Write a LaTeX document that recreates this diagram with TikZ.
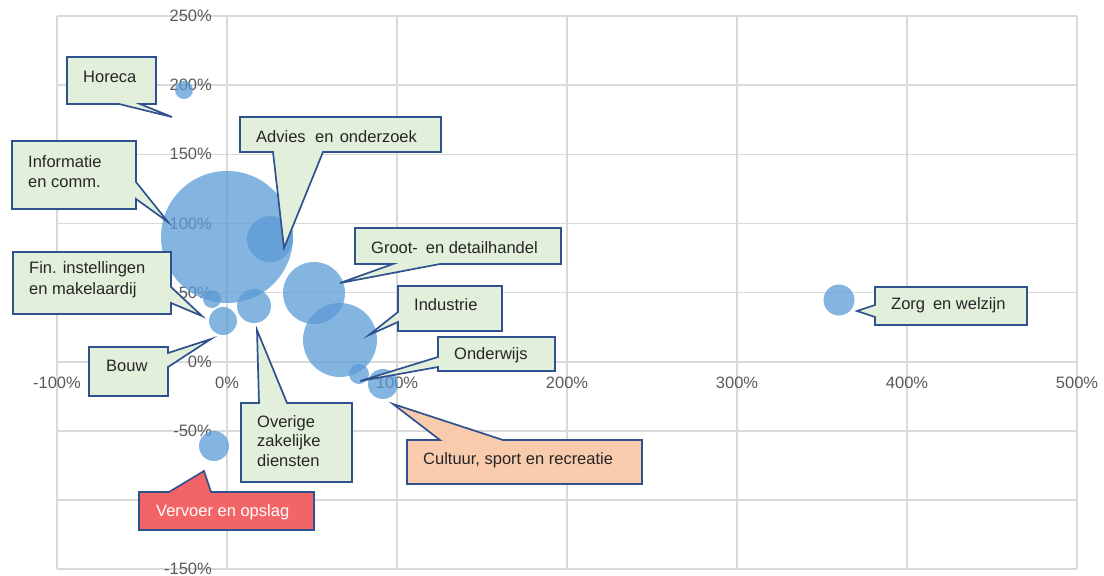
\documentclass[tikz,border=0pt]{standalone}
\usepackage{fontspec}
\setmainfont{Liberation Sans}
\definecolor{gridgray}{HTML}{D9D9D9}
\definecolor{labelgray}{HTML}{595959}
\definecolor{bubbleblue}{HTML}{5B9BD5}
\definecolor{calloutgreen}{HTML}{E2EFDA}
\definecolor{calloutpeach}{HTML}{F8CBAD}
\definecolor{calloutred}{HTML}{F26466}
\definecolor{calloutline}{HTML}{2F528F}
\definecolor{textdark}{HTML}{262626}
\begin{document}
\begin{tikzpicture}[x=1pt,y=-1pt,
  gridline/.style={draw=gridgray,line width=1.6pt},
  ticklabel/.style={text=labelgray,inner sep=0pt,font=\fontsize{16.5}{20}\selectfont},
  bubble/.style={fill=bubbleblue,fill opacity=0.75},
  callgreen/.style={fill=calloutgreen,draw=calloutline,line width=1.7pt,line join=miter},
  callpeach/.style={fill=calloutpeach,draw=calloutline,line width=1.7pt,line join=miter},
  callred/.style={fill=calloutred,draw=calloutline,line width=1.7pt,line join=miter},
  calltext/.style={text=textdark,inner sep=0pt,anchor=west,align=left,font=\fontsize{16.5}{20.5}\selectfont}]
\useasboundingbox (0,0) rectangle (1104,576);

% grid
\foreach \gx in {57,227,397,567,737,907,1077}
  \draw[gridline] (\gx,16) -- (\gx,569.2);
\foreach \k in {0,...,8}
  \draw[gridline] (57,16+69.15*\k) -- (1077,16+69.15*\k);

% vertical axis labels
\node[ticklabel,anchor=east] (y250) at (212,16) {250\%};
\node[ticklabel,anchor=east] (y200) at (212,85.15) {200\%};
\node[ticklabel,anchor=east] (y150) at (212,154.3) {150\%};
\node[ticklabel,anchor=east] (y100) at (212,223.45) {100\%};
\node[ticklabel,anchor=east] (y50) at (212,292.6) {50\%};
\node[ticklabel,anchor=east] (y0) at (212,361.75) {0\%};
\node[ticklabel,anchor=east] (ym50) at (212,430.9) {-50\%};
\node[ticklabel,anchor=east] (ym150) at (212,569.2) {-150\%};

% horizontal axis labels
\node[ticklabel] (xm100) at (57,383) {-100\%};
\node[ticklabel] (x0) at (227,383) {0\%};
\node[ticklabel] (x100) at (397,383) {100\%};
\node[ticklabel] (x200) at (567,383) {200\%};
\node[ticklabel] (x300) at (737,383) {300\%};
\node[ticklabel] (x400) at (907,383) {400\%};
\node[ticklabel] (x500) at (1077,383) {500\%};

% bubbles
\fill[bubble] (227,237) circle (66);
\fill[bubble] (270,239) circle (23);
\fill[bubble] (184,90) circle (9);
\fill[bubble] (314,293) circle (31);
\fill[bubble] (340,340) circle (37);
\fill[bubble] (359,374) circle (10);
\fill[bubble] (383,384) circle (15);
\fill[bubble] (254,306) circle (17);
\fill[bubble] (212,299) circle (9);
\fill[bubble] (223,321) circle (14);
\fill[bubble] (214,446) circle (15);
\fill[bubble] (839,300) circle (15.5);

% callouts
\draw[callgreen] (67,57) -- (156,57) -- (156,104) -- (140,104) -- (172,117) -- (119,104) -- (67,104) -- cycle;
\node[calltext] (horeca) at (83,77) {Horeca};

\draw[callgreen] (12,141) -- (136,141) -- (136,182) -- (168,222) -- (136,199) -- (136,209) -- (12,209) -- cycle;
\node[calltext] (info) at (28,171.5) {Informatie\\en comm.};

\draw[callgreen] (240,117) -- (441,117) -- (441,152) -- (323,152) -- (284,248) -- (273,152) -- (240,152) -- cycle;
\node[calltext] (advies) at (256,137) {Advies\hspace{0.3em} en\hspace{0.1em} onderzoek};

\draw[callgreen] (355,228) -- (561,228) -- (561,264) -- (440,264) -- (340,283) -- (393,264) -- (355,264) -- cycle;
\node[calltext] (groot) at (371,248) {Groot-\hspace{0.2em} en detailhandel};

\draw[callgreen] (398,286) -- (502,286) -- (502,331) -- (398,331) -- (398,322) -- (369,335) -- (398,312) -- cycle;
\node[calltext] (industrie) at (414,305) {Industrie};

\draw[callgreen] (438,337) -- (555,337) -- (555,371) -- (438,371) -- (438,367) -- (360,381) -- (438,357) -- cycle;
\node[calltext] (onderwijs) at (454,355) {Onderwijs};

\draw[callpeach] (407,440) -- (440,440) -- (393,404) -- (503,440) -- (642,440) -- (642,484) -- (407,484) -- cycle;
\node[calltext] (cultuur) at (423,460) {Cultuur, sport en recreatie};

\draw[callgreen] (875,287) -- (1027,287) -- (1027,325) -- (875,325) -- (875,317) -- (857,311) -- (875,305) -- cycle;
\node[calltext] (zorg) at (891,305) {Zorg\hspace{0.2em} en welzijn};

\draw[callgreen] (13,252) -- (171,252) -- (171,287) -- (202,316) -- (171,303) -- (171,314) -- (13,314) -- cycle;
\node[calltext] (fin) at (29,279.5) {Fin. instellingen\\en makelaardij};

\draw[callgreen] (89,347) -- (168,347) -- (168,353) -- (211,339) -- (168,367) -- (168,396) -- (89,396) -- cycle;
\node[calltext] (bouw) at (106,366) {Bouw};

\draw[callgreen] (241,403) -- (259,403) -- (257,330) -- (287,403) -- (352,403) -- (352,482) -- (241,482) -- cycle;
\node[calltext,font=\fontsize{16.5}{19.5}\selectfont] (overige) at (257,441) {Overige\\zakelijke\\diensten};

\draw[callred] (139,492) -- (169,492) -- (204,471) -- (211,492) -- (314,492) -- (314,530) -- (139,530) -- cycle;
\node[calltext,text=white] (vervoer) at (156,512) {Vervoer en opslag};
\end{tikzpicture}
\end{document}
